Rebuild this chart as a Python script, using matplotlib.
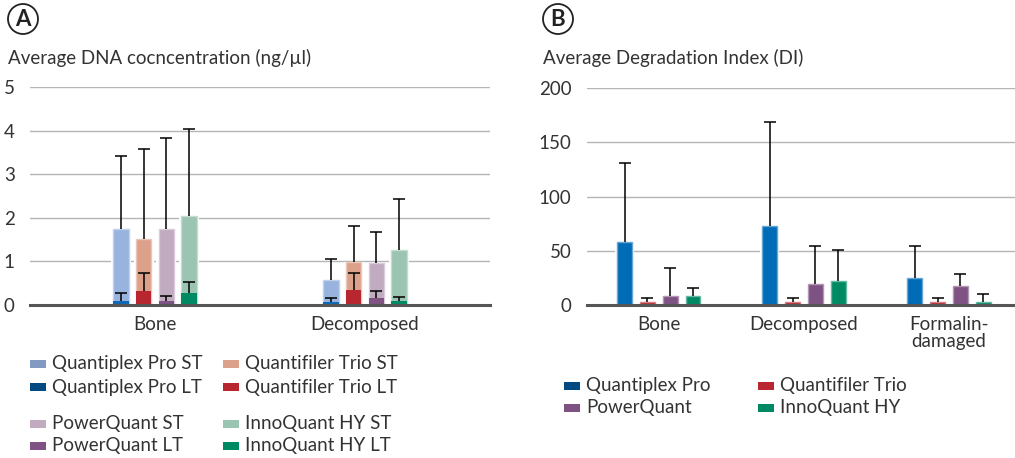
import matplotlib
matplotlib.use("Agg")
import matplotlib.pyplot as plt
import matplotlib.patches as mpatches
from matplotlib.colors import to_rgb
import numpy as np

plt.rcParams['font.family'] = ['Lato', 'DejaVu Sans']

# ---------------- Data ----------------
cats_a = ["Bone", "Decomposed"]
kits = ["Quantiplex Pro", "Quantifiler Trio", "PowerQuant", "InnoQuant HY"]
# Panel A: short target (ST) and long target (LT) means and SD (upper error)
st_mean = {"Quantiplex Pro": [1.74, 0.57], "Quantifiler Trio": [1.51, 0.99],
           "PowerQuant": [1.74, 0.96], "InnoQuant HY": [2.05, 1.27]}
st_err = {"Quantiplex Pro": [1.67, 0.48], "Quantifiler Trio": [2.06, 0.83],
          "PowerQuant": [2.08, 0.71], "InnoQuant HY": [1.98, 1.15]}
lt_mean = {"Quantiplex Pro": [0.09, 0.07], "Quantifiler Trio": [0.32, 0.34],
           "PowerQuant": [0.09, 0.16], "InnoQuant HY": [0.27, 0.09]}
lt_err = {"Quantiplex Pro": [0.18, 0.08], "Quantifiler Trio": [0.41, 0.39],
          "PowerQuant": [0.11, 0.17], "InnoQuant HY": [0.26, 0.09]}

cats_b = ["Bone", "Decomposed", "Formalin-\ndamaged"]
di_mean = {"Quantiplex Pro": [58.1, 73.4, 25.2], "Quantifiler Trio": [3.1, 3.1, 3.1],
           "PowerQuant": [8.6, 19.7, 17.8], "InnoQuant HY": [8.6, 22.1, 3.1]}
di_err = {"Quantiplex Pro": [72.8, 95.0, 29.2], "Quantifiler Trio": [3.4, 3.4, 3.4],
          "PowerQuant": [25.8, 34.7, 10.8], "InnoQuant HY": [7.1, 28.6, 7.0]}

# ---------------- Styles ----------------
st_col = {"Quantiplex Pro": "#97b3de", "Quantifiler Trio": "#dca18b",
          "PowerQuant": "#c1abc0", "InnoQuant HY": "#9cc4b3"}
lt_col = {"Quantiplex Pro": "#0d68b6", "Quantifiler Trio": "#b8262f",
          "PowerQuant": "#7e5282", "InnoQuant HY": "#008a64"}
st_leg = {"Quantiplex Pro": "#8299c2", "Quantifiler Trio": "#dca18b",
          "PowerQuant": "#c1abc0", "InnoQuant HY": "#9cc4b3"}
lt_leg = {"Quantiplex Pro": "#004a84", "Quantifiler Trio": "#b8262f",
          "PowerQuant": "#7e5282", "InnoQuant HY": "#008a64"}
text_col = "#333333"
grid_col = "#b5b5b5"
FS = 13.5


def lighten(c, f=0.35):
    r = np.array(to_rgb(c))
    return tuple(r + (1 - r) * f)


W, H = 1015, 458
fig = plt.figure(figsize=(W / 100, H / 100), dpi=100)


def ax_rect(x0, x1, y_top, y_bot):
    return [x0 / W, 1 - y_bot / H, (x1 - x0) / W, (y_bot - y_top) / H]


def style_axes(ax, ylim, yticks):
    ax.set_ylim(*ylim)
    ax.set_yticks(yticks)
    for s in ax.spines.values():
        s.set_visible(False)
    ax.tick_params(axis='both', length=0, labelsize=FS, colors=text_col)
    ax.tick_params(axis='y', pad=11)
    ax.tick_params(axis='x', pad=8)
    ax.yaxis.grid(True, color=grid_col, lw=1.0, zorder=0)
    ax.set_axisbelow(True)
    ax.axhline(0, color="#555555", lw=2.2, zorder=6, clip_on=False)


def draw_bar(ax, x, h, w, color, z):
    ax.bar(x, h, w * 1.28, color="white", edgecolor="none", zorder=z - 0.5)
    ax.bar(x, h, w, color=color, edgecolor=lighten(color, 0.4), lw=1.0, zorder=z)


def draw_err(ax, x, y, e, z):
    ax.vlines(x, y, y + e, color='black', lw=1.1, zorder=z)
    ax.plot([x], [y + e], marker='_', markersize=8, mew=1.1, color='black',
            zorder=z, linestyle='none')


# ---------------- Panel A ----------------
axA = fig.add_axes(ax_rect(30, 490, 87, 305))
style_axes(axA, (0, 5), [0, 1, 2, 3, 4, 5])
xa = np.arange(len(cats_a))
wA, spA = 0.074, 0.108
for i, k in enumerate(kits):
    off = (i - 1.5) * spA
    for j in range(len(cats_a)):
        x = xa[j] + off
        draw_bar(axA, x, st_mean[k][j], wA, st_col[k], 2)
        draw_err(axA, x, st_mean[k][j], st_err[k][j], 3)
        axA.bar(x, lt_mean[k][j], wA, color=lt_col[k], edgecolor='none', zorder=4)
        draw_err(axA, x, lt_mean[k][j], lt_err[k][j], 5)
axA.set_xlim(-0.595, 1.595)
axA.set_xticks(xa)
axA.set_xticklabels(cats_a)

fig.text(8 / W, 1 - 58 / H, "Average DNA cocncentration (ng/µl)", fontsize=FS,
         color=text_col, va='center', ha='left')

# ---------------- Panel B ----------------
axB = fig.add_axes(ax_rect(586.7, 1015, 88, 305.3))
style_axes(axB, (0, 200), [0, 50, 100, 150, 200])
xb = np.arange(len(cats_b))
wB, spB = 0.103, 0.157
for i, k in enumerate(kits):
    off = (i - 1.5) * spB
    for j in range(len(cats_b)):
        x = xb[j] + off
        draw_bar(axB, x, di_mean[k][j], wB, lt_col[k] if k != "Quantiplex Pro" else "#006bb6", 2)
        draw_err(axB, x, di_mean[k][j], di_err[k][j], 3)
axB.set_xlim(-0.497, 2.455)
axB.set_xticks(xb)
axB.set_xticklabels(cats_b, linespacing=0.95)

fig.text(543 / W, 1 - 58 / H, "Average Degradation Index (DI)", fontsize=FS,
         color=text_col, va='center', ha='left')

# ---------------- Panel letters ----------------
for cx, letter in [(23, "A"), (558, "B")]:
    circ = mpatches.Ellipse((cx / W, 1 - 19 / H), 30 / W, 30 / H,
                            transform=fig.transFigure, fill=False,
                            edgecolor='#222222', lw=1.3)
    fig.patches.append(circ)
    fig.text(cx / W, 1 - 19.5 / H, letter, fontsize=16, fontweight='bold',
             color='#222222', ha='center', va='center')


# ---------------- Legends (manual) ----------------
def legend_item(x, y, color, label):
    fig.patches.append(mpatches.Rectangle((x / W, 1 - (y + 4) / H), 16 / W, 8 / H,
                                          transform=fig.transFigure,
                                          color=color, lw=0))
    fig.text((x + 22) / W, 1 - y / H, label, fontsize=FS, color=text_col,
             va='center', ha='left')


# Panel A legend
rowsA = [364, 387, 424, 446]
legend_item(30, rowsA[0], st_leg["Quantiplex Pro"], "Quantiplex Pro ST")
legend_item(30, rowsA[1], lt_leg["Quantiplex Pro"], "Quantiplex Pro LT")
legend_item(30, rowsA[2], st_leg["PowerQuant"], "PowerQuant ST")
legend_item(30, rowsA[3], lt_leg["PowerQuant"], "PowerQuant LT")
legend_item(223, rowsA[0], st_leg["Quantifiler Trio"], "Quantifiler Trio ST")
legend_item(223, rowsA[1], lt_leg["Quantifiler Trio"], "Quantifiler Trio LT")
legend_item(223, rowsA[2], st_leg["InnoQuant HY"], "InnoQuant HY ST")
legend_item(223, rowsA[3], lt_leg["InnoQuant HY"], "InnoQuant HY LT")

# Panel B legend
rowsB = [386, 408]
legend_item(564, rowsB[0], lt_leg["Quantiplex Pro"], "Quantiplex Pro")
legend_item(564, rowsB[1], lt_leg["PowerQuant"], "PowerQuant")
legend_item(758, rowsB[0], lt_leg["Quantifiler Trio"], "Quantifiler Trio")
legend_item(758, rowsB[1], lt_leg["InnoQuant HY"], "InnoQuant HY")

fig.savefig("out.png", dpi=100, facecolor="white")
